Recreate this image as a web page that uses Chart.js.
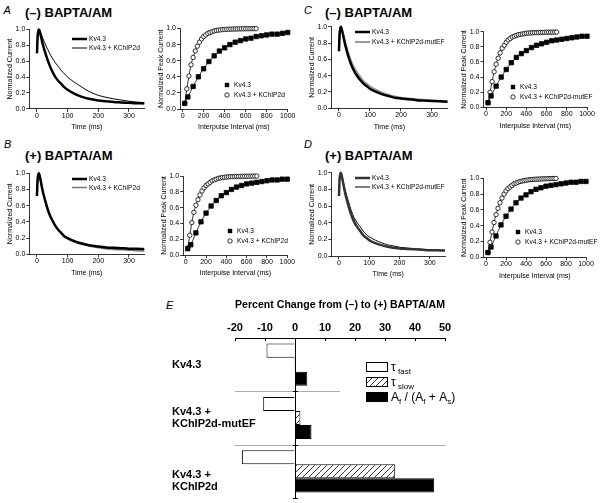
<!DOCTYPE html>
<html><head><meta charset="utf-8">
<script src="https://cdn.jsdelivr.net/npm/chart.js@4/dist/chart.umd.min.js"></script>
<style>
body{margin:0;background:#fff;width:601px;height:503px;position:relative;overflow:hidden;font-family:'Liberation Sans',Arial,sans-serif}
canvas{position:absolute}
.lbl{position:absolute;white-space:nowrap;line-height:1;color:#000}
.pl{font-style:italic;font-size:11px}
.tt{font-weight:bold;font-size:13px}
</style></head><body>
<div class="lbl pl" style="left:3.5px;top:5px">A</div>
<div class="lbl tt" style="left:25px;top:6px">(–) BAPTA/AM</div>
<div class="lbl pl" style="left:304px;top:5px">C</div>
<div class="lbl tt" style="left:325px;top:6px">(–) BAPTA/AM</div>
<div class="lbl pl" style="left:4px;top:138.5px">B</div>
<div class="lbl tt" style="left:25px;top:149px">(+) BAPTA/AM</div>
<div class="lbl pl" style="left:304px;top:138.5px">D</div>
<div class="lbl tt" style="left:325px;top:149px">(+) BAPTA/AM</div>
<div class="lbl pl" style="left:166px;top:299.5px">E</div>
<script>
// ---------- data ----------
const decayTime = [0, 2, 4, 6, 8, 12, 16, 20, 30, 40, 50, 60, 70, 80, 90, 100, 120, 140, 160, 180, 200, 225, 250, 275, 300, 325, 350];
const aDecayKv    = [0.70,0.90,0.97,1.00,0.99,0.93,0.86,0.80,0.67,0.56,0.47,0.40,0.35,0.31,0.27,0.24,0.195,0.16,0.135,0.12,0.105,0.095,0.085,0.08,0.075,0.07,0.068];
const aDecayKChIP = [0.70,0.90,0.97,1.00,1.00,0.96,0.92,0.88,0.79,0.71,0.64,0.58,0.53,0.48,0.44,0.40,0.34,0.29,0.24,0.20,0.17,0.145,0.125,0.11,0.095,0.085,0.078];
const bDecayKv    = [0.72,0.92,0.98,1.00,0.98,0.91,0.83,0.76,0.62,0.50,0.42,0.35,0.30,0.26,0.22,0.20,0.165,0.14,0.12,0.105,0.095,0.085,0.08,0.075,0.07,0.068,0.065];
const bDecayKChIP = [0.72,0.92,0.98,1.00,0.98,0.91,0.83,0.76,0.62,0.50,0.42,0.35,0.30,0.26,0.22,0.19,0.155,0.13,0.11,0.095,0.08,0.07,0.06,0.055,0.05,0.045,0.04];
const cDecayKv    = [0.70,0.90,0.97,1.00,0.98,0.92,0.85,0.78,0.64,0.53,0.45,0.39,0.34,0.30,0.27,0.24,0.20,0.17,0.15,0.13,0.12,0.11,0.10,0.095,0.09,0.085,0.08];
const cDecayMut   = [0.70,0.90,0.97,1.00,0.99,0.93,0.87,0.81,0.68,0.57,0.49,0.43,0.38,0.33,0.30,0.27,0.225,0.19,0.165,0.145,0.13,0.12,0.11,0.10,0.095,0.09,0.085];
const dDecayKv    = [0.72,0.92,0.98,1.00,0.98,0.91,0.83,0.76,0.62,0.50,0.41,0.35,0.30,0.25,0.22,0.19,0.155,0.13,0.11,0.10,0.09,0.085,0.08,0.075,0.07,0.068,0.066];
const dDecayMut   = [0.72,0.92,0.98,1.00,0.99,0.93,0.86,0.80,0.67,0.55,0.46,0.40,0.35,0.30,0.26,0.23,0.19,0.16,0.135,0.12,0.105,0.095,0.087,0.08,0.075,0.07,0.068];

const recKvInterval = [20,50,100,150,200,250,300,350,400,450,500,550,600,650,700,750,800,850,900,950,1000];
const recKChIPInterval = [20,40,60,80,100,120,140,160,180,200,220,240,260,280,300,320,340,360,380,400,420,440,460,480,500,520,540,560,580,600,620,640,660,680,700];
const aRecKv    = [0.07,0.15,0.28,0.40,0.50,0.59,0.66,0.72,0.76,0.80,0.83,0.85,0.87,0.88,0.90,0.91,0.92,0.93,0.93,0.94,0.95];
const aRecKChIP = [0.07,0.25,0.41,0.55,0.64,0.72,0.78,0.83,0.87,0.90,0.92,0.94,0.95,0.96,0.97,0.975,0.98,0.983,0.986,0.988,0.99,0.991,0.992,0.993,0.994,0.995,0.995,0.996,0.996,0.997,0.997,0.997,0.998,0.998,0.998];
const bRecKv    = [0.08,0.13,0.28,0.42,0.53,0.62,0.69,0.75,0.79,0.83,0.86,0.88,0.90,0.91,0.92,0.93,0.94,0.95,0.95,0.96,0.96];
const bRecKChIP = [0.09,0.25,0.41,0.54,0.63,0.70,0.76,0.81,0.85,0.88,0.90,0.92,0.94,0.95,0.96,0.97,0.975,0.98,0.984,0.987,0.99,0.991,0.992,0.993,0.994,0.995,0.996,0.996,0.997,0.997,0.998,0.998,0.998,0.999,0.999];
const cRecKv    = [0.06,0.15,0.28,0.40,0.50,0.59,0.66,0.71,0.75,0.79,0.82,0.84,0.86,0.88,0.89,0.90,0.91,0.92,0.93,0.94,0.94];
const cRecMut   = [0.06,0.20,0.34,0.47,0.57,0.65,0.72,0.78,0.82,0.86,0.89,0.91,0.93,0.94,0.95,0.96,0.965,0.97,0.975,0.98,0.982,0.984,0.986,0.987,0.988,0.989,0.99,0.991,0.992,0.993,0.993,0.994,0.994,0.995,0.995];
const dRecKv    = [0.06,0.13,0.27,0.41,0.52,0.61,0.69,0.75,0.79,0.83,0.86,0.88,0.90,0.91,0.92,0.93,0.94,0.95,0.95,0.96,0.96];
const dRecMut   = [0.06,0.19,0.32,0.44,0.54,0.62,0.69,0.75,0.80,0.84,0.87,0.89,0.91,0.93,0.94,0.95,0.96,0.965,0.97,0.975,0.98,0.983,0.985,0.987,0.989,0.99,0.991,0.992,0.993,0.994,0.995,0.996,0.997,0.998,0.998];

const timeTicks = [0, 100, 200, 300];
const intervalTicks = [0, 200, 400, 600, 800, 1000];
const normTicks = [0, 0.2, 0.4, 0.6, 0.8, 1.0];

const eCategories = [['Kv4.3'], ['Kv4.3 +', 'KChIP2d-mutEF'], ['Kv4.3 +', 'KChIP2d']];
const eTauFast  = [-9.5, -10.6, -17.7];
const eTauSlow  = [-0.3, 1.8, 33.4];
const eAmpRatio = [4.1, 5.5, 46.4];
const eTicks = [-20, -10, 0, 10, 20, 30, 40, 50];

// ---------- helpers ----------
Chart.defaults.color = '#000';
const SMALL_FONT = "'Liberation Sans Narrow','Liberation Sans',Arial,sans-serif";
const pairs = (xs, ys) => xs.map((x, i) => ({x: x, y: ys[i]}));

function narrowText(ctx, t, x, y) {
  ctx.save(); ctx.translate(x, y); ctx.scale(0.88, 1); ctx.fillText(t, 0, 0); ctx.restore();
}

const inLegend = {
  id: 'inLegend',
  afterDatasetsDraw(chart, args, o) {
    if (!o || !o.kind) return;
    const ctx = chart.ctx, a = chart.chartArea;
    ctx.save();
    ctx.font = '7.5px ' + SMALL_FONT;
    ctx.textBaseline = 'middle';
    ctx.fillStyle = '#000';
    chart.data.datasets.forEach((ds, i) => {
      const x = a.left + o.x, y = a.top + o.y + i * o.gap;
      if (o.kind === 'line') {
        ctx.strokeStyle = ds.borderColor; ctx.lineWidth = ds.borderWidth;
        ctx.beginPath(); ctx.moveTo(x, y); ctx.lineTo(x + 15, y); ctx.stroke();
        ctx.fillStyle = '#000';
        narrowText(ctx, ds.label, x + 17, y);
      } else {
        if (ds.pointStyle === 'rect') {
          ctx.fillStyle = '#000'; ctx.fillRect(x - 2.2, y - 2.2, 4.4, 4.4);
        } else {
          ctx.fillStyle = '#fff'; ctx.strokeStyle = '#000'; ctx.lineWidth = 0.8;
          ctx.beginPath(); ctx.arc(x, y, 2.2, 0, Math.PI * 2); ctx.fill(); ctx.stroke();
        }
        ctx.fillStyle = '#000';
        narrowText(ctx, ds.label, x + 7, y);
      }
    });
    ctx.restore();
  }
};

function smallChart(area, xMin, xMax, xTicks, xTitle, yTitle, datasets, legend) {
  const cl = Math.floor(area.L - 29), ct = Math.floor(area.T - 10);
  const w = Math.min(601 - cl, Math.ceil(area.R + 14 - cl)), h = Math.ceil(area.B + 24 - ct);
  const c = document.createElement('canvas');
  c.width = w; c.height = h; c.style.left = cl + 'px'; c.style.top = ct + 'px';
  document.body.appendChild(c);
  const yW = area.L - cl, padTop = area.T - ct, padRight = w - (area.R - cl), xH = h - (area.B - ct);
  const tickFont = {size: 7, family: SMALL_FONT};
  new Chart(c, {
    type: 'scatter',
    data: {datasets: datasets},
    options: {
      responsive: false, animation: false, devicePixelRatio: 1,
      layout: {padding: {left: 0, top: padTop, right: padRight, bottom: 0}},
      plugins: {legend: {display: false}, tooltip: {enabled: false}, inLegend: legend},
      scales: {
        x: {
          type: 'linear', min: xMin, max: xMax,
          afterFit: s => { s.height = xH; },
          afterBuildTicks: s => { s.ticks = xTicks.map(v => ({value: v})); },
          grid: {drawOnChartArea: false, tickLength: 3, color: '#000', tickWidth: 0.8},
          border: {color: '#000', width: 0.8},
          ticks: {font: tickFont, color: '#000', padding: 0, maxRotation: 0, autoSkip: false, callback: v => String(v)},
          title: {display: true, text: xTitle, font: {size: 7, family: SMALL_FONT}, color: '#000', padding: {top: 0, bottom: 1.8}}
        },
        y: {
          type: 'linear', min: 0, max: 1,
          afterFit: s => { s.width = yW; },
          afterBuildTicks: s => { s.ticks = normTicks.map(v => ({value: v})); },
          grid: {drawOnChartArea: false, tickLength: 3, color: '#000', tickWidth: 0.8},
          border: {color: '#000', width: 0.8},
          ticks: {font: tickFont, color: '#000', padding: 1, autoSkip: false, callback: v => Number(v).toFixed(1)},
          title: {display: true, text: yTitle, font: {size: 7, family: SMALL_FONT}, color: '#000', padding: {top: 5.8, bottom: 0}}
        }
      }
    },
    plugins: [inLegend]
  });
}

function decaySet(label, ys, color, width) {
  return {label: label, data: pairs(decayTime, ys), showLine: true, borderColor: color, borderWidth: width,
          pointRadius: 0, cubicInterpolationMode: 'monotone', clip: false};
}
function recSet(label, xs, ys, style) {
  const sq = style === 'rect';
  return {label: label, data: pairs(xs, ys), showLine: true, borderColor: '#000', borderWidth: 0.8,
          pointStyle: style, pointRadius: sq ? 3.1 : 2.2, pointBackgroundColor: sq ? '#000' : '#fff',
          pointBorderColor: '#000', pointBorderWidth: 0.8, cubicInterpolationMode: 'monotone', clip: false};
}

const decayX = 'Time (ms)', decayY = 'Normalized Current';
const recX = 'Interpulse Interval (ms)', recY = 'Normalized Peak Current';

// Panel A
smallChart({L: 29.3, R: 144.3, T: 29.5, B: 108.8}, -25, 350, timeTicks, decayX, decayY,
  [decaySet('Kv4.3', aDecayKv, '#000', 2.5), decaySet('Kv4.3 + KChIP2d', aDecayKChIP, '#000', 1)],
  {kind: 'line', x: 42.7, y: 9.5, gap: 9});
smallChart({L: 180, R: 287.7, T: 28.5, B: 109}, -25, 1000, intervalTicks, recX, recY,
  [recSet('Kv4.3', recKvInterval, aRecKv, 'rect'), recSet('Kv4.3 + KChIP2d', recKChIPInterval, aRecKChIP, 'circle')],
  {kind: 'marker', x: 47, y: 56.5, gap: 10});
// Panel B
smallChart({L: 29.3, R: 144.3, T: 173.3, B: 254.3}, -25, 350, timeTicks, decayX, decayY,
  [decaySet('Kv4.3', bDecayKv, '#000', 2.5), decaySet('Kv4.3 + KChIP2d', bDecayKChIP, '#777', 1.5)],
  {kind: 'line', x: 42.7, y: 5.7, gap: 8.5});
smallChart({L: 183.2, R: 287.3, T: 176, B: 255}, -25, 1000, intervalTicks, recX, recY,
  [recSet('Kv4.3', recKvInterval, bRecKv, 'rect'), recSet('Kv4.3 + KChIP2d', recKChIPInterval, bRecKChIP, 'circle')],
  {kind: 'marker', x: 46.8, y: 55, gap: 10});
// Panel C
smallChart({L: 331.2, R: 447.5, T: 26.7, B: 108.3}, -25, 350, timeTicks, decayX, decayY,
  [decaySet('Kv4.3', cDecayKv, '#000', 2.5), decaySet('Kv4.3 + KChIP2d-mutEF', cDecayMut, '#999', 2)],
  {kind: 'line', x: 23.8, y: 5.3, gap: 10});
smallChart({L: 483.5, R: 587, T: 31.7, B: 107.3}, -25, 1000, intervalTicks, recX, recY,
  [recSet('Kv4.3', recKvInterval, cRecKv, 'rect'), recSet('Kv4.3 + KChIP2d-mutEF', recKChIPInterval, cRecMut, 'circle')],
  {kind: 'marker', x: 29.5, y: 55.3, gap: 10});
// Panel D
smallChart({L: 331.4, R: 445, T: 172.7, B: 256}, -25, 350, timeTicks, decayX, decayY,
  [decaySet('Kv4.3', dDecayKv, '#333', 2.5), decaySet('Kv4.3 + KChIP2d-mutEF', dDecayMut, '#000', 1)],
  {kind: 'line', x: 23.6, y: 5.3, gap: 9});
smallChart({L: 483.5, R: 586, T: 178.3, B: 257.3}, -25, 1000, intervalTicks, recX, recY,
  [recSet('Kv4.3', recKvInterval, dRecKv, 'rect'), recSet('Kv4.3 + KChIP2d-mutEF', recKChIPInterval, dRecMut, 'circle')],
  {kind: 'marker', x: 34.5, y: 53.7, gap: 10});

// ---------- Panel E ----------
const pc = document.createElement('canvas');
pc.width = 6; pc.height = 6;
const pctx = pc.getContext('2d');
pctx.fillStyle = '#fff'; pctx.fillRect(0, 0, 6, 6);
pctx.strokeStyle = '#000'; pctx.lineWidth = 0.8;
pctx.beginPath();
pctx.moveTo(0, 6); pctx.lineTo(6, 0);
pctx.moveTo(-1, 1); pctx.lineTo(1, -1);
pctx.moveTo(5, 7); pctx.lineTo(7, 5);
pctx.stroke();

const cE = document.createElement('canvas');
cE.width = 441; cE.height = 213; cE.style.left = '160px'; cE.style.top = '290px';
document.body.appendChild(cE);
const hatch = cE.getContext('2d').createPattern(pc, 'repeat');

const labelOffsets = [0, 0, 10];
const panelE = {
  id: 'panelE',
  afterDatasetsDraw(chart) {
    const ctx = chart.ctx, a = chart.chartArea;
    const xs = chart.scales.x, ys = chart.scales.y;
    const x0 = xs.getPixelForValue(0);
    ctx.save();
    ctx.strokeStyle = '#aaa'; ctx.lineWidth = 1;
    const b1 = Math.round(ys.getPixelForValue(0.5)) + 0.5, b2 = Math.round(ys.getPixelForValue(1.5)) + 0.5;
    ctx.beginPath();
    ctx.moveTo(xs.getPixelForValue(-20), b1); ctx.lineTo(xs.getPixelForValue(15), b1);
    ctx.moveTo(xs.getPixelForValue(-20), b2); ctx.lineTo(xs.getPixelForValue(50), b2);
    ctx.stroke();
    ctx.strokeStyle = '#000'; ctx.lineWidth = 1;
    const zx = Math.round(x0) + 0.5;
    ctx.beginPath(); ctx.moveTo(zx, a.top); ctx.lineTo(zx, a.bottom + 1); ctx.stroke();
    [0.5, 1.5, 2.5].forEach(v => {
      const y = Math.round(ys.getPixelForValue(v)) + 0.5;
      ctx.beginPath(); ctx.moveTo(zx - 2.5, y); ctx.lineTo(zx + 2.5, y); ctx.stroke();
    });
    eTicks.forEach(v => {
      const x = Math.round(xs.getPixelForValue(v)) + 0.5;
      ctx.beginPath(); ctx.moveTo(x, a.top); ctx.lineTo(x, a.top + 3); ctx.stroke();
    });
    ctx.fillStyle = '#000';
    ctx.font = "bold 11px 'Liberation Sans',Arial,sans-serif";
    ctx.textBaseline = 'middle'; ctx.textAlign = 'left';
    eCategories.forEach((lines, i) => {
      const cy = ys.getPixelForValue(i) + labelOffsets[i];
      const lh = 12;
      lines.forEach((t, j) => ctx.fillText(t, 12, cy + (j - (lines.length - 1) / 2) * lh));
    });
    const bx = 206.5, bw = 21, bh = 9;
    const rows = [363, 378, 393].map(v => v - 290);
    chart.data.datasets.forEach((ds, i) => {
      ctx.fillStyle = ds.backgroundColor; ctx.fillRect(bx, rows[i] - 0.5, bw, bh);
      ctx.strokeStyle = '#000'; ctx.lineWidth = 1; ctx.strokeRect(bx, rows[i] - 0.5, bw, bh);
    });
    ctx.fillStyle = '#000'; ctx.textBaseline = 'alphabetic';
    const big = "12px 'Liberation Sans',Arial,sans-serif", sub = "8px 'Liberation Sans',Arial,sans-serif";
    const runs = [
      [['τ', big, 0], [' fast', sub, 3]],
      [['τ', big, 0], [' slow', sub, 3]],
      [['A', big, 0], ['f', sub, 3], [' / (A', big, 0], ['f', sub, 3], [' + A', big, 0], ['s', sub, 3], [')', big, 0]]
    ];
    runs.forEach((r, i) => {
      let x = 231; const base = rows[i] + 8;
      r.forEach(([t, f, dy]) => { ctx.font = f; ctx.fillText(t, x, base + dy); x += ctx.measureText(t).width; });
    });
    ctx.restore();
  }
};

new Chart(cE, {
  type: 'bar',
  data: {
    labels: eCategories,
    datasets: [
      {label: 'τ fast', data: eTauFast, backgroundColor: '#fff', borderColor: '#000', borderWidth: 1},
      {label: 'τ slow', data: eTauSlow, backgroundColor: hatch, borderColor: '#000', borderWidth: 1},
      {label: 'Af / (Af + As)', data: eAmpRatio, backgroundColor: '#000', borderColor: '#000', borderWidth: 1}
    ]
  },
  options: {
    indexAxis: 'y', responsive: false, animation: false, devicePixelRatio: 1,
    layout: {padding: {left: 75, right: 156, top: 0, bottom: 5}},
    datasets: {bar: {categoryPercentage: 0.79, barPercentage: 1.0}},
    plugins: {legend: {display: false}, tooltip: {enabled: false}},
    scales: {
      x: {
        position: 'top', min: -20, max: 50,
        afterFit: s => { s.height = 48; },
        afterBuildTicks: s => { s.ticks = eTicks.map(v => ({value: v})); },
        grid: {drawOnChartArea: false, drawTicks: false},
        border: {color: '#000', width: 1},
        ticks: {font: {size: 11, weight: 'bold', family: "'Liberation Sans',Arial,sans-serif"}, color: '#000', padding: 3, maxRotation: 0},
        title: {display: true, text: 'Percent Change from (–) to (+) BAPTA/AM',
                font: {size: 11, weight: 'bold', family: "'Liberation Sans',Arial,sans-serif"}, color: '#000', padding: {top: 8.4, bottom: 0}}
      },
      y: {display: false}
    }
  },
  plugins: [panelE]
});
</script>
</body></html>
